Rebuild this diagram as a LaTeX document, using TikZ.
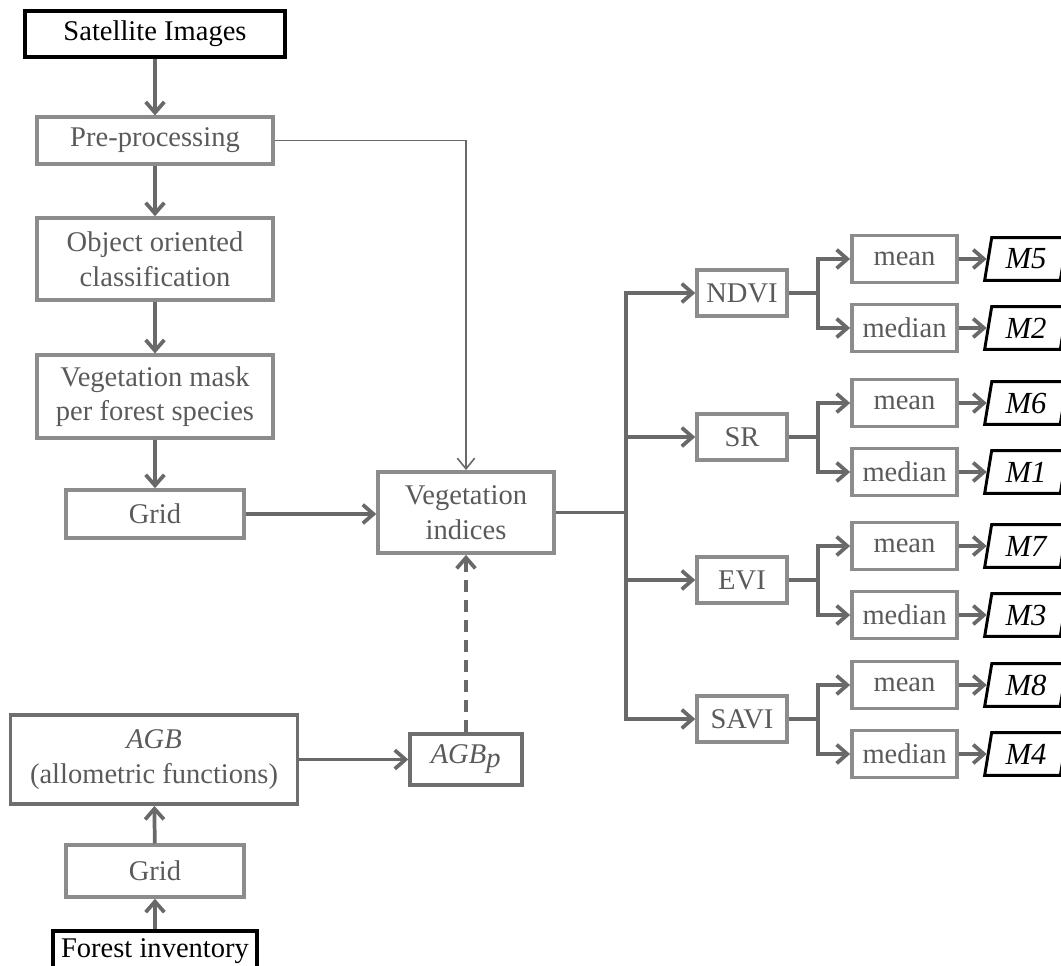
\documentclass[tikz,border=0pt]{standalone}
\usepackage{fontspec}
\setmainfont{Liberation Serif}
\usepackage{xcolor}
\usetikzlibrary{arrows.meta,shapes.geometric,positioning}

\definecolor{boxgray}{RGB}{140,140,140}
\definecolor{darkbox}{RGB}{110,110,110}
\definecolor{arrgray}{RGB}{105,105,105}
\definecolor{txtgray}{RGB}{90,90,90}

\newcommand{\figfont}{\fontsize{21.4pt}{26pt}\selectfont}

\tikzset{
  box/.style={draw=boxgray, line width=2.6pt, text=txtgray, align=center, inner sep=2pt},
  blackbox/.style={draw=black, line width=2.8pt, text=black, align=center, inner sep=2pt},
  mbox/.style={trapezium, trapezium left angle=73, trapezium right angle=107,
    trapezium stretches body, draw=black, line width=2.2pt, text=black,
    font=\fontsize{23pt}{26pt}\selectfont\itshape, minimum width=62pt, minimum height=32pt, inner sep=1pt},
  link/.style={draw=arrgray, line width=2.8pt},
  arr/.style={link, -{Straight Barb[length=8pt,width=14pt]}},
  thinarr/.style={draw=arrgray, line width=1.2pt, -{Straight Barb[length=8pt,width=13pt]}}
}

\begin{document}
\begin{tikzpicture}[x=0.75pt,y=-0.75pt,font=\figfont]
\useasboundingbox (0,0) rectangle (1061,966);
\clip (0,0) rectangle (1061,966);
% satellite branch
\node[blackbox, minimum width=195pt, minimum height=34.5pt] (sat) at (155,34) {Satellite Images};
\node[box, minimum width=177pt, minimum height=35pt] (pre) at (155,140.5) {Pre-processing};
\node[box, minimum width=177pt, minimum height=61.5pt] (obj) at (155,259) {Object oriented\\classification};
\node[box, minimum width=177pt, minimum height=62pt] (mask) at (155,396.5) {Vegetation mask\\per forest species};
\node[box, minimum width=133.5pt, minimum height=36pt] (grid) at (155,514) {Grid};
\node[box, minimum width=132pt, minimum height=61pt] (vind) at (466,512.5) {Vegetation\\indices};
% inventory branch
\node[box, draw=darkbox, minimum width=215pt, minimum height=67pt] (agb) at (154,759.5) {\textit{AGB}\\(allometric functions)};
\node[box, draw=darkbox, minimum width=84pt, minimum height=38pt] (agbp) at (466,759.5) {\textit{AGB}$_{\textit{p}}$};
\node[box, minimum width=133.5pt, minimum height=39pt] (gridinv) at (155,871) {Grid};
\node[blackbox, minimum width=153pt, minimum height=30pt] (inv) at (155,951) {Forest inventory};
% arrows
\draw[arr] (sat) -- (pre);
\draw[arr] (pre) -- (obj);
\draw[arr] (obj) -- (mask);
\draw[arr] (mask) -- (grid);
\draw[arr] (grid) -- (grid -| vind.west);
\draw[thinarr] (pre.east) -| (vind.north);
\draw[arr] (inv) -- (gridinv);
\draw[arr] (gridinv) -- (agb);
\draw[arr] (agb) -- (agbp);
\draw[arr, dash pattern=on 9pt off 6pt] (agbp) -- (vind);
% indices and models
\coordinate (split) at (626,512.5);
\draw[link] (vind) -- (split);
\foreach \ix/\lab/\y/\ma/\mb in {ndvi/NDVI/293/5/2, sr/SR/437/6/1, evi/EVI/580/7/3, savi/SAVI/719/8/4}{
  \node[box, minimum width=67.5pt, minimum height=34.5pt] (\ix) at (742,\y) {\lab};
  \node[box, minimum width=79pt, minimum height=35pt] (\ix-mean) at (904.5,\y-34) {mean};
  \node[box, minimum width=79pt, minimum height=35pt] (\ix-med) at (904.5,\y+35) {median};
  \node[mbox] (\ix-m\ma) at (1026,\y-34) {M\ma};
  \node[mbox] (\ix-m\mb) at (1026,\y+35) {M\mb};
  \coordinate (\ix-br) at (818,\y);
  \draw[arr] (split) |- (\ix);
  \draw[link] (\ix) -- (\ix-br);
  \draw[arr] (\ix-br) |- (\ix-mean);
  \draw[arr] (\ix-br) |- (\ix-med);
  \draw[arr] (\ix-mean) -- (\ix-m\ma);
  \draw[arr] (\ix-med) -- (\ix-m\mb);
}
\end{tikzpicture}
\end{document}
